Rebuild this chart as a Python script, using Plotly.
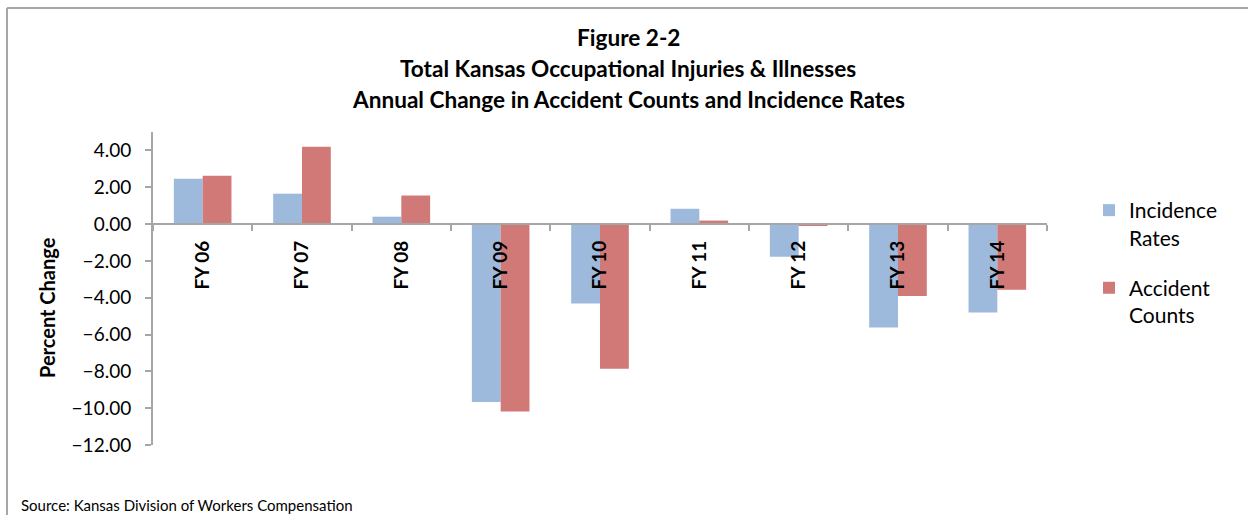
import plotly.graph_objects as go

categories = ["FY 06", "FY 07", "FY 08", "FY 09", "FY 10", "FY 11", "FY 12", "FY 13", "FY 14"]
incidence_rates = [2.46, 1.65, 0.40, -9.67, -4.31, 0.83, -1.77, -5.62, -4.80]
accident_counts = [2.62, 4.20, 1.55, -10.18, -7.86, 0.19, -0.10, -3.91, -3.57]
y_tick_values = [-12, -10, -8, -6, -4, -2, 0, 2, 4]

W, H = 1249, 515
FONT = "Lato"
BLUE = "#9DB9DC"
RED = "#D07977"
AXIS = "#A6A6A6"

y_min, y_max = -12, 5
px_x0, px_x1 = 153, 1047
px_top, px_bot = 132, 445
dom_x = [px_x0 / W, px_x1 / W]
dom_y = [(H - px_bot) / H, (H - px_top) / H]
zero_pos = dom_y[0] + (0 - y_min) / (y_max - y_min) * (dom_y[1] - dom_y[0])

fig = go.Figure()
fig.add_trace(go.Bar(x=categories, y=incidence_rates, name="Incidence<br>Rates", legendgroup="a",
                     marker=dict(color=BLUE, line=dict(width=0))))
fig.add_trace(go.Bar(x=categories, y=accident_counts, name="Accident<br>Counts", legendgroup="b",
                     marker=dict(color=RED, line=dict(width=0))))

fig.update_layout(
    width=W, height=H,
    margin=dict(l=0, r=0, t=0, b=0, autoexpand=False),
    paper_bgcolor="white", plot_bgcolor="white",
    barmode="group", bargap=0.42, bargroupgap=0,
    font=dict(family=FONT, color="#000000"),
    showlegend=True,
    legend=dict(x=1089 / W, y=(H - 190) / H, xanchor="left", yanchor="top",
                font=dict(family=FONT, size=21, color="#000000"),
                tracegroupgap=20, itemwidth=30, valign="top", bgcolor="rgba(0,0,0,0)"),
    xaxis=dict(domain=dom_x, anchor="free", position=zero_pos, type="category",
               automargin=False,
               showline=True, linecolor=AXIS, linewidth=2,
               ticks="outside", ticklen=6, tickcolor=AXIS, tickwidth=2,
               tickson="boundaries", tickangle=-90, showgrid=False, ticklabelstandoff=8,
               tickfont=dict(family=FONT, size=19, weight="bold", color="#000000")),
    yaxis=dict(domain=dom_y, range=[y_min, y_max], tickvals=y_tick_values,
               automargin=False,
               tickformat=".2f", showline=True, linecolor=AXIS, linewidth=2,
               ticks="outside", ticklen=6, tickcolor=AXIS, tickwidth=2,
               showgrid=False, zeroline=False, ticklabelstandoff=10,
               tickfont=dict(family=FONT, size=19, color="#000000")),
)

titles = [("Figure 2-2", 37), ("Total Kansas Occupational Injuries & Illnesses", 69),
          ("Annual Change in Accident Counts and Incidence Rates", 99)]
for text, ypx in titles:
    fig.add_annotation(text=text, x=628 / W, y=(H - ypx) / H, xref="paper", yref="paper",
                       xanchor="center", yanchor="middle", showarrow=False,
                       font=dict(family=FONT, size=22.6, weight="bold", color="#000000"))

fig.add_annotation(text="Percent Change", x=47 / W, y=(H - 308) / H, xref="paper", yref="paper",
                   xanchor="center", yanchor="middle", textangle=-90, showarrow=False,
                   font=dict(family=FONT, size=20, weight="bold", color="#000000"))

fig.add_annotation(text="Source: Kansas Division of Workers Compensation", x=19 / W, y=(H - 505) / H,
                   xref="paper", yref="paper", xanchor="left", yanchor="middle", showarrow=False,
                   font=dict(family=FONT, size=15, color="#000000"))

# outer frame (top and left edges visible)
fig.add_shape(type="line", xref="paper", yref="paper", x0=7 / W, x1=1248 / W, y0=(H - 8) / H, y1=(H - 8) / H,
              line=dict(color=AXIS, width=2))
fig.add_shape(type="line", xref="paper", yref="paper", x0=7 / W, x1=7 / W, y0=0, y1=(H - 8) / H,
              line=dict(color=AXIS, width=2))

fig.write_html("out.html", config={"displayModeBar": False},
               post_script="document.body.style.margin='0';document.body.style.overflow='hidden';")
